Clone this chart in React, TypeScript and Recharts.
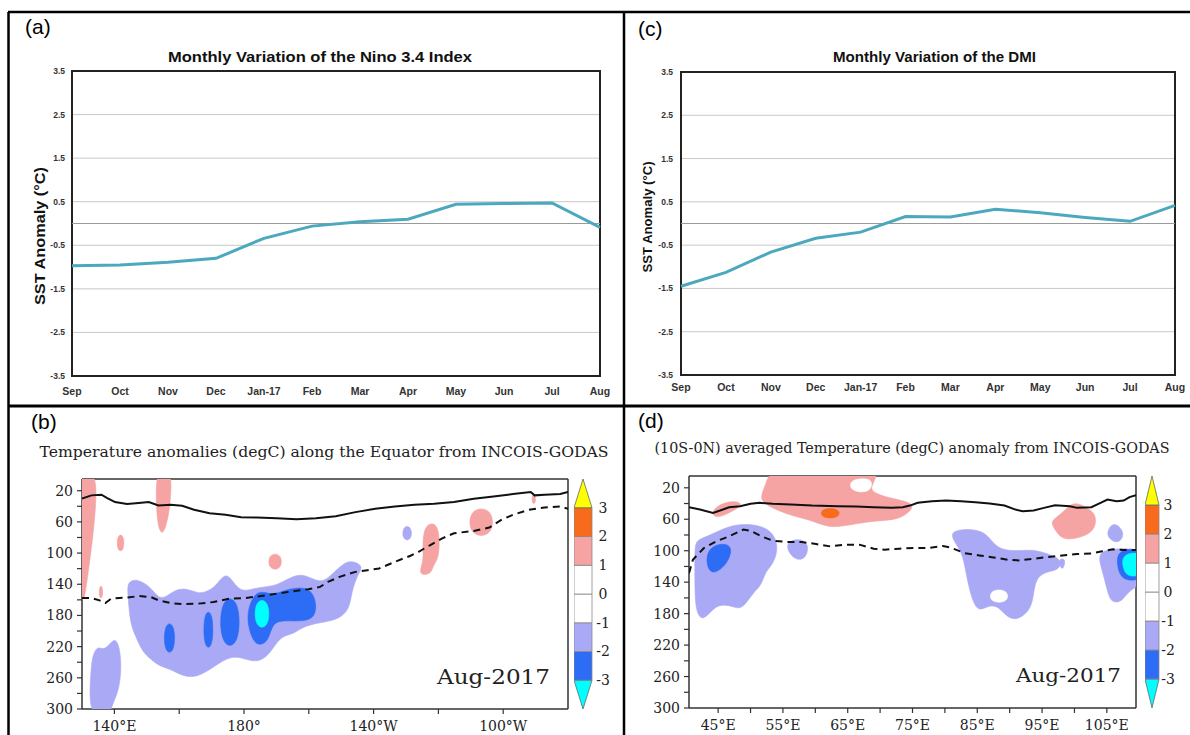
import React from 'react';
import {
  LineChart, Line, XAxis, YAxis, CartesianGrid, ReferenceLine, ReferenceArea,
  ComposedChart, Scatter, BarChart, Bar,
} from 'recharts';

// ---------------- (a) & (c) monthly indices ----------------
const months = ['Sep', 'Oct', 'Nov', 'Dec', 'Jan-17', 'Feb', 'Mar', 'Apr', 'May', 'Jun', 'Jul', 'Aug'];
const nino34 = [-0.97, -0.95, -0.89, -0.8, -0.34, -0.06, 0.04, 0.1, 0.44, 0.46, 0.47, -0.09];
const dmi = [-1.45, -1.13, -0.66, -0.34, -0.2, 0.16, 0.15, 0.33, 0.25, 0.14, 0.05, 0.42];
const sstTicks = [3.5, 2.5, 1.5, 0.5, -0.5, -1.5, -2.5, -3.5];

// ---------------- shared depth axis ----------------
const depthTicks = [20, 40, 60, 80, 100, 120, 140, 160, 180, 200, 220, 240, 260, 280, 300];
const depthLabelled = [20, 60, 100, 140, 180, 220, 260, 300];

// ---------------- (b) equatorial Pacific section ----------------
const lonTicksB = [140, 160, 180, 200, 220, 240, 260];
const lonLabelsB: Record<number, string> = { 140: '140°E', 180: '180°', 220: '140°W', 260: '100°W' };

type P = [number, number][];

const solidB: P = [[130, 30], [132.9, 26], [136, 25.2], [137.8, 29.5], [140.2, 34.6], [143.9, 37.2], [147.5, 35.9], [150.6, 34.6], [153.6, 38.9], [157.3, 38.1], [160.9, 39.4], [164.6, 44.5], [169.4, 48.8], [174.3, 51], [179.1, 54], [184, 54.4], [190.1, 55.3], [196.2, 56.6], [202.2, 55.3], [208.3, 52.7], [214.4, 47.5], [220.5, 43.2], [226.6, 40.2], [232.6, 38.1], [238.7, 36.8], [244.8, 34.6], [250.9, 30.3], [257, 27.3], [263, 24.3], [268.5, 21.7], [269.7, 26], [272.8, 25.2], [277.6, 24.3], [280, 21.7]];
const dashedB: P = [[130, 157.6], [132.9, 157.6], [135.4, 160.6], [137.2, 164.1], [139, 158.5], [141.5, 157.6], [143.9, 157.2], [147.5, 155.1], [151.2, 156.3], [153.6, 160.6], [157.3, 164.1], [160.9, 165.4], [165.8, 164.9], [170.6, 162.8], [175.5, 158.5], [180.4, 157.6], [185.2, 155.1], [190.1, 152], [195, 149], [199.8, 146.4], [203.5, 143.4], [205.9, 137], [209.5, 130.5], [214.4, 124.1], [218.1, 121.9], [221.7, 119.8], [226.6, 111.2], [231.4, 103.4], [233.9, 98.3], [237.5, 89.7], [241.2, 81.1], [244.8, 74.6], [250.9, 71.6], [255.7, 67.3], [259.4, 57.4], [263, 51], [267.9, 44.5], [272.8, 41.5], [277.6, 40.2], [280, 43.2]];

const pinkB1: P = [[126, -10], [134.6, -10], [134.3, 40], [133.2, 85], [131.9, 125], [131, 152], [130.4, 162], [126, 160]];
const pinkB2: P = [[135.3, 142], [136.4, 142], [136.4, 158], [135.3, 158]];
const pinkB3: P = [[152.8, -10], [157.7, -10], [157.4, 30], [156.6, 55], [155, 78], [153.5, 68], [152.9, 40]];
const pinkB4: P = [[140.8, 76], [143, 76], [143, 98], [140.8, 98]];
const pinkB5: P = [[187.5, 100.5], [191.7, 100.5], [191.7, 121.5], [187.5, 121.5]];
const pinkB6: P = [[236.8, 62], [239.5, 62], [240.4, 81], [240.1, 107], [238.3, 116], [237.7, 128], [233.6, 128], [235.5, 111], [235.1, 90], [235.5, 72]];
const pinkB7: P = [[249.4, 41.8], [257, 41.8], [257, 79], [249.4, 79]];
const pinkB8: P = [[268.9, 24], [270, 24], [270, 37], [268.9, 37]];
const lavB1: P = [[228.9, 65.3], [231.8, 65.3], [231.8, 83.9], [228.9, 83.9]];
const lavB2: P = [[144.1, 137], [146.9, 132.7], [151.2, 143.4], [153.6, 158.5], [156, 156.3], [158.5, 147.7], [162.1, 144.7], [165.8, 152], [168.2, 149.9], [171.2, 143.4], [174.3, 124.1], [176.7, 137], [179.1, 149.9], [182.8, 145.6], [186.4, 143.4], [190.1, 141.3], [193.7, 132.7], [197.4, 126.2], [201, 132.7], [203.5, 137], [205.9, 132.7], [209.5, 117.6], [212, 110.3], [214.4, 111.2], [216.8, 117.6], [215, 128.4], [213.2, 149.9], [212.6, 171.4], [209.5, 184.3], [204.7, 188.6], [198.6, 192.9], [195, 204.9], [191.3, 205.8], [187.7, 231.6], [184, 240.2], [180.4, 235.9], [176.7, 231.6], [172.5, 240.2], [168.2, 253.1], [164.6, 259.6], [160.9, 257.4], [157.3, 248.8], [153.6, 244.5], [151.2, 235.9], [148.8, 227.3], [146.9, 210.1], [145.1, 192.9], [144.5, 171.4], [144.1, 149.9]];
const lavB3: P = [[132.7, 253], [133.2, 231.6], [134.8, 218.7], [136.8, 225.2], [139, 214.4], [140.2, 210.1], [141.5, 218.7], [142.2, 244.5], [141.5, 274.6], [139.6, 291.8], [138.3, 310], [132, 310]];
const blueB1: P = [[155.3, 189.2], [158.7, 189.2], [158.7, 228.8], [155.3, 228.8]];
const blueB2: P = [[167.5, 173.9], [170.5, 173.9], [170.5, 222.7], [167.5, 222.7]];
const blueB3: P = [[172.55, 156.1], [178.75, 156.1], [178.75, 221.1], [172.55, 221.1]];
const blueB4: P = [[181.6, 167.1], [183.4, 152], [185.8, 149], [188.9, 154.2], [192.5, 147.7], [197.4, 143.4], [201, 147.7], [202.5, 167.1], [201.6, 184.3], [197.4, 187.7], [192.5, 186.4], [188.9, 188.6], [187.7, 210.1], [185.8, 217.8], [183.4, 216.6], [181.8, 201.5], [181, 184.3]];
const cyanB: P = [[183.25, 159.2], [187.85, 159.2], [187.85, 196.6], [183.25, 196.6]];

// ---------------- (d) 10S-0N Indian Ocean section ----------------
const lonTicksD = [45, 50, 55, 60, 65, 70, 75, 80, 85, 90, 95, 100, 105];
const lonLabelsD: Record<number, string> = { 45: '45°E', 55: '55°E', 65: '65°E', 75: '75°E', 85: '85°E', 95: '95°E', 105: '105°E' };

const solidD: P = [[40.5, 44.7], [42.2, 47.7], [44.2, 51.9], [45.3, 48.9], [46.7, 44.7], [48.4, 43.4], [50, 40.4], [51.4, 39.1], [53.4, 40.4], [56.2, 41.3], [59.5, 42.6], [63.5, 43.4], [66.3, 43.8], [69, 44.7], [71.8, 45.5], [73.5, 44.7], [74.6, 42.6], [75.8, 39.1], [78, 37], [80.2, 36.2], [82.5, 37], [84.7, 38.3], [86.9, 40], [89.2, 42.6], [90.9, 47.7], [92, 49.8], [93.7, 48.9], [95.3, 45.5], [97, 42.1], [99.3, 43.4], [100.4, 45.5], [102.6, 44.7], [103.7, 40.4], [105.1, 34.9], [106.5, 37], [107.6, 36.2], [108.5, 31.9], [109.5, 29.4]];
const dashedD: P = [[40.5, 128.5], [41.1, 111.5], [42.8, 96.6], [44.7, 88.1], [46.7, 81.7], [48.9, 73.2], [50, 74.5], [51.7, 81.7], [53.4, 87.2], [55.6, 88.9], [57.9, 88.9], [60.1, 91.5], [62.3, 94.5], [64.6, 92.3], [66.8, 92.3], [69, 97.4], [70.7, 98.7], [73, 97.4], [75.2, 96.6], [77.4, 96.6], [79.7, 94], [80.8, 95.7], [83, 103], [85.3, 106], [87.5, 108.5], [89.7, 111.5], [91.4, 112.3], [93.7, 110.2], [95.9, 108.1], [98.1, 106], [100.4, 104.3], [102.6, 103.4], [104.3, 100.8], [105.9, 98.3], [107.6, 99.1], [109.5, 99.1]];

const pinkD1: P = [[51.4, 32.8], [52.3, 41.3], [54.5, 49.8], [56.7, 56.2], [59, 60.4], [61.2, 67.7], [62.9, 70.2], [65.1, 67.7], [67.9, 63.4], [70.2, 61.7], [72.4, 60.4], [74.1, 54], [75.3, 43.4], [74.1, 37], [71.3, 32.8], [69, 26.4], [68.5, 20], [69.3, 9.4], [69.8, -10], [53.2, -10], [52.4, 15.7]];
const notchD: P = [[65.2, 9], [68.6, 7], [68.8, 18], [68, 26.5], [65.4, 24.5]];
const pinkD2: P = [[43.9, 54], [45, 58.3], [46.7, 51.9], [48.6, 43.4], [48.4, 37.9], [46.7, 37], [44.7, 43.4]];
const orangeD: P = [[60.8, 45.9], [63.8, 45.9], [63.8, 58.9], [60.8, 58.9]];
const pinkD3: P = [[96.2, 62.6], [97.9, 54], [99.3, 41.3], [100.4, 39.1], [102, 45.5], [103.4, 54], [103.2, 73.2], [101.5, 81.7], [99.3, 86], [97.9, 83.8], [97, 73.2]];
const lavD1: P = [[41.4, 92.3], [41.9, 86], [43.3, 81.7], [45, 75.3], [46.7, 68.9], [48.9, 66], [51.2, 67.7], [52.8, 73.2], [53.9, 83.8], [54.2, 100.8], [53.4, 117.9], [52.3, 126.4], [51.7, 143.4], [50.6, 151.9], [49.5, 164.7], [48.4, 175.3], [46.7, 168.9], [45, 168.9], [43.9, 177.4], [42.5, 189.3], [41.6, 177.4], [41.4, 151.9], [41.4, 117.9]];
const blueD1: P = [[43.3, 100.8], [44.7, 91.5], [46.7, 91.5], [47.1, 100.8], [46.4, 115.7], [45, 126.4], [43.9, 128.5], [43.2, 117.9]];
const lavD2: P = [[55.3, 90.2], [57.3, 83.8], [59, 90.2], [58.7, 107.2], [57.6, 112.8], [56.2, 107.2]];
const lavD3: P = [[80.8, 75.3], [83.6, 71.9], [85.8, 75.3], [86.9, 83.8], [88.1, 96.6], [90.3, 100.8], [93.1, 98.7], [94.8, 100.8], [97, 107.2], [98, 113.6], [97.6, 124.2], [95.9, 126.4], [94.2, 132.8], [93.7, 151.9], [93.4, 173.2], [91.4, 188.1], [89.7, 185.9], [88.3, 171], [86.9, 168.9], [85.3, 177.4], [84.4, 166.8], [83.6, 143.4], [83, 115.7], [82.5, 100.8], [81.4, 88.1]];
const holeD: P = [[86.9, 149.2], [89.8, 149.2], [89.8, 166.2], [86.9, 166.2]];
const lavD4: P = [[97.5, 110], [98.7, 110], [98.3, 123], [97.9, 123]];
const lavD5: P = [[104.3, 100.8], [106, 97.4], [111, 96.6], [111, 139.1], [108.2, 151.9], [107.4, 164.7], [105.7, 166.8], [105.1, 151.9], [104.6, 134.9], [104, 117.9], [103.8, 107.2]];
const lavD6: P = [[106.2, 62.6], [107.9, 77.4], [106.8, 92.3], [105.1, 83.8], [105.1, 73.2]];
const blueD2: P = [[106.8, 98], [111, 96], [111, 136], [108.2, 139], [107, 132], [106.5, 115]];
const cyanD: P = [[107.2, 103], [111, 101], [111, 131], [108.3, 134], [107.5, 124]];

// ---------------- colour bar ----------------
const cbColors = ['#00FFFF', '#2D6CF5', '#A9A9F5', '#FFFFFF', '#FFFFFF', '#F5A3A3', '#F86A1C', '#FFFF00'];
const cbLabels = ['-3', '-2', '-1', '0', '1', '2', '3'];
const cbTicks = [1, 2, 3, 4, 5, 6, 7];
const cbRow = [{ name: 'cb', s0: 1, s1: 1, s2: 1, s3: 1, s4: 1, s5: 1, s6: 1, s7: 1 }];

const PINK = '#F5A3A3';
const LAV = '#A9A9F5';
const BLUE = '#2D6CF5';
const CYAN = '#00FFFF';
const ORANGE = '#F86A1C';

const SERIF = "'DejaVu Serif', serif";
const SANS = "'Liberation Sans', Arial, sans-serif";

const toPts = (a: P) => a.map(([x, y]) => ({ x, y }));
const NoShape = () => <g />;

type BlobSpec = { pts: P; color: string };

const blobsB: BlobSpec[] = [
  { pts: lavB2, color: LAV }, { pts: lavB3, color: LAV }, { pts: lavB1, color: LAV },
  { pts: blueB1, color: BLUE }, { pts: blueB2, color: BLUE }, { pts: blueB3, color: BLUE }, { pts: blueB4, color: BLUE },
  { pts: cyanB, color: CYAN },
  { pts: pinkB1, color: PINK }, { pts: pinkB2, color: PINK }, { pts: pinkB3, color: PINK }, { pts: pinkB4, color: PINK },
  { pts: pinkB5, color: PINK }, { pts: pinkB6, color: PINK }, { pts: pinkB7, color: PINK }, { pts: pinkB8, color: PINK },
];

const blobsD: BlobSpec[] = [
  { pts: pinkD1, color: PINK }, { pts: notchD, color: '#FFFFFF' }, { pts: pinkD2, color: PINK }, { pts: orangeD, color: ORANGE },
  { pts: pinkD3, color: PINK },
  { pts: lavD1, color: LAV }, { pts: blueD1, color: BLUE }, { pts: lavD2, color: LAV },
  { pts: lavD3, color: LAV }, { pts: holeD, color: '#FFFFFF' }, { pts: lavD4, color: LAV },
  { pts: lavD5, color: LAV }, { pts: lavD6, color: LAV }, { pts: blueD2, color: BLUE }, { pts: cyanD, color: CYAN },
];

function IndexChart(props: { values: number[]; width: number; margin: any; tickSize: number; tickMargin: number; yMargin: number }) {
  const data = months.map((m, i) => ({ m, v: props.values[i] }));
  return (
    <LineChart width={props.width} height={405} data={data} margin={props.margin}>
      <CartesianGrid vertical={false} stroke="#c9c9c9" strokeWidth={1} />
      <XAxis dataKey="m" height={20} interval={0} tickLine={false} axisLine={false}
        tickSize={props.tickSize} tickMargin={props.tickMargin}
        tick={{ fontFamily: SANS, fontWeight: 700, fontSize: 10.5, fill: '#333' }} />
      <YAxis type="number" domain={[-3.5, 3.5]} ticks={sstTicks} width={40} interval={0} allowDataOverflow
        tickLine={false} axisLine={false} tickSize={0} tickMargin={props.yMargin}
        tick={{ fontFamily: SANS, fontWeight: 700, fontSize: 8.5, fill: '#333' }} />
      <ReferenceLine y={0} stroke="#9a9a9a" strokeWidth={1} />
      <Line type="linear" dataKey="v" stroke="#4CA8BE" strokeWidth={3} dot={false} isAnimationActive={false} />
      <ReferenceArea x1="Sep" x2="Aug" y1={-3.5} y2={3.5} fill="none" fillOpacity={0} stroke="#222" strokeWidth={2} />
    </LineChart>
  );
}

function Section(props: {
  width: number; height: number; margin: any; xDomain: [number, number]; xTicks: number[];
  xLabels: Record<number, string>; blobs: BlobSpec[]; solid: P; dashed: P; bottomH: number;
}) {
  const axisStroke = '#333';
  const tickFont = { fontFamily: SERIF, fontSize: 14, fill: '#222' };
  return (
    <ComposedChart width={props.width} height={props.height} margin={props.margin}>
      <XAxis xAxisId="b" type="number" dataKey="x" domain={props.xDomain} ticks={props.xTicks} allowDataOverflow
        orientation="bottom" height={props.bottomH} interval={0} tickSize={5} tickMargin={7}
        tickFormatter={(v: number) => props.xLabels[v] ?? ''} stroke={axisStroke}
        axisLine={{ stroke: axisStroke, strokeWidth: 1.5 }} tickLine={{ stroke: axisStroke, strokeWidth: 1.2 }} tick={tickFont} />
      <XAxis xAxisId="t" type="number" dataKey="x" domain={props.xDomain} ticks={props.xTicks} allowDataOverflow
        orientation="top" height={6} interval={0} tickSize={5} tick={false} stroke={axisStroke}
        axisLine={{ stroke: axisStroke, strokeWidth: 1.5 }} tickLine={{ stroke: axisStroke, strokeWidth: 1.2 }} />
      <YAxis yAxisId="l" type="number" dataKey="y" domain={[5, 300]} reversed ticks={depthTicks} allowDataOverflow
        width={60} interval={0} tickSize={5} tickMargin={4}
        tickFormatter={(v: number) => (depthLabelled.includes(v) ? String(v) : '')} stroke={axisStroke}
        axisLine={{ stroke: axisStroke, strokeWidth: 1.5 }} tickLine={{ stroke: axisStroke, strokeWidth: 1.2 }} tick={tickFont} />
      <YAxis yAxisId="r" type="number" dataKey="y" domain={[5, 300]} reversed ticks={depthTicks} allowDataOverflow
        orientation="right" width={6} interval={0} tickSize={5} tick={false} stroke={axisStroke}
        axisLine={{ stroke: axisStroke, strokeWidth: 1.5 }} tickLine={{ stroke: axisStroke, strokeWidth: 1.2 }} />
      <Scatter xAxisId="t" yAxisId="r" data={toPts(props.solid)} shape={NoShape} isAnimationActive={false} legendType="none" />
      {props.blobs.map((b, i) => (
        <Scatter key={i} xAxisId="b" yAxisId="l" data={toPts(b.pts)} shape={NoShape} isAnimationActive={false}
          legendType="none" fill={b.color}
          line={{ fill: b.color, stroke: b.color, strokeWidth: 0.6 }} lineType="joint" lineJointType="basisClosed" />
      ))}
      <Scatter xAxisId="b" yAxisId="l" data={toPts(props.solid)} shape={NoShape} isAnimationActive={false} legendType="none"
        line={{ fill: 'none', stroke: '#111', strokeWidth: 2 }} lineType="joint" lineJointType="linear" />
      <Scatter xAxisId="b" yAxisId="l" data={toPts(props.dashed)} shape={NoShape} isAnimationActive={false} legendType="none"
        line={{ fill: 'none', stroke: '#111', strokeWidth: 2, strokeDasharray: '7 5' }} lineType="joint" lineJointType="linear" />
    </ComposedChart>
  );
}

const TriUp = (p: any) => (
  <polygon points={`${p.x},${p.y + p.height} ${p.x + p.width},${p.y + p.height} ${p.x + p.width / 2},${p.y}`}
    fill={p.fill} stroke="#666" strokeWidth={0.8} />
);
const TriDown = (p: any) => (
  <polygon points={`${p.x},${p.y} ${p.x + p.width},${p.y} ${p.x + p.width / 2},${p.y + p.height}`}
    fill={p.fill} stroke="#666" strokeWidth={0.8} />
);

function ColorBar(props: { width: number; height: number; barW: number; labelDx: number; fontSize: number }) {
  const CbTick = (t: any) => (
    <text x={t.x + props.labelDx} y={t.y} dy="0.35em" textAnchor="middle" fontFamily={SERIF} fontSize={props.fontSize} fill="#222">
      {cbLabels[t.payload.value - 1]}
    </text>
  );
  return (
    <BarChart width={props.width} height={props.height} data={cbRow} barCategoryGap={0} barGap={0}
      margin={{ top: 1, bottom: 1, left: 0, right: props.width - props.barW - 40 }}>
      <XAxis dataKey="name" hide />
      <YAxis type="number" domain={[0, 8]} ticks={cbTicks} orientation="right" width={40} interval={0}
        tickLine={false} axisLine={false} tickSize={0} tickMargin={0} tick={CbTick} />
      {cbColors.map((c, i) => (
        <Bar key={i} dataKey={`s${i}`} stackId="cb" fill={c} stroke="#888" strokeWidth={0.8} isAnimationActive={false}
          shape={i === 0 ? TriDown : i === cbColors.length - 1 ? TriUp : undefined} />
      ))}
    </BarChart>
  );
}

export default function App() {
  const abs = (left: number, top: number): React.CSSProperties => ({ position: 'absolute', left, top });
  return (
    <div style={{ position: 'absolute', left: 0, top: 0, width: 1190, height: 735, background: '#fff', overflow: 'hidden' }}>
      <div style={abs(0, 0)}>
        <IndexChart values={nino34} width={620} margin={{ top: 71, right: 20, bottom: 9, left: 32 }} tickSize={6} tickMargin={6} yMargin={7} />
      </div>
      <div style={abs(624, 0)}>
        <IndexChart values={dmi} width={566} margin={{ top: 72, right: 15, bottom: 10, left: 17 }} tickSize={4} tickMargin={5} yMargin={8} />
      </div>
      <div style={abs(0, 405)}>
        <Section width={620} height={330} margin={{ top: 68, right: 46, bottom: 0, left: 22 }} xDomain={[130, 280]}
          xTicks={lonTicksB} xLabels={lonLabelsB} blobs={blobsB} solid={solidB} dashed={dashedB} bottomH={26} />
      </div>
      <div style={abs(624, 405)}>
        <Section width={566} height={330} margin={{ top: 65, right: 48, bottom: 0, left: 5 }} xDomain={[40.5, 109.5]}
          xTicks={lonTicksD} xLabels={lonLabelsD} blobs={blobsD} solid={solidD} dashed={dashedD} bottomH={27} />
      </div>
      <div style={abs(574, 478)}>
        <ColorBar width={60} height={232} barW={18} labelDx={11} fontSize={14} />
      </div>
      <div style={abs(1145, 475)}>
        <ColorBar width={54} height={234} barW={14} labelDx={9} fontSize={14} />
      </div>
      <svg width={1190} height={735} style={{ position: 'absolute', left: 0, top: 0, pointerEvents: 'none' }}>
        <line x1={8} y1={12} x2={1190} y2={12} stroke="#000" strokeWidth={2.5} />
        <line x1={8.5} y1={12} x2={8.5} y2={735} stroke="#000" strokeWidth={2.5} />
        <line x1={624} y1={12} x2={624} y2={735} stroke="#000" strokeWidth={2.5} />
        <line x1={8} y1={406} x2={1190} y2={406} stroke="#000" strokeWidth={3} />
        <text x={25} y={34} fontFamily={SANS} fontSize={21} fill="#000">(a)</text>
        <text x={638} y={36} fontFamily={SANS} fontSize={21} fill="#000">(c)</text>
        <text x={31} y={429} fontFamily={SANS} fontSize={21} fill="#000">(b)</text>
        <text x={638} y={428} fontFamily={SANS} fontSize={21} fill="#000">(d)</text>
        <text x={168} y={62} fontFamily={SANS} fontWeight={700} fontSize={15} fill="#111" textLength={304} lengthAdjust="spacingAndGlyphs">Monthly Variation of the  Nino 3.4 Index</text>
        <text x={833} y={62} fontFamily={SANS} fontWeight={700} fontSize={14} fill="#111" textLength={203} lengthAdjust="spacingAndGlyphs">Monthly Variation of the DMI</text>
        <text transform="translate(45,236) rotate(-90)" textAnchor="middle" fontFamily={SANS} fontWeight={700} fontSize={14} fill="#111" textLength={138} lengthAdjust="spacingAndGlyphs">SST Anomaly (°C)</text>
        <text transform="translate(651.5,217) rotate(-90)" textAnchor="middle" fontFamily={SANS} fontWeight={700} fontSize={13} fill="#111" textLength={111} lengthAdjust="spacingAndGlyphs">SST Anomaly (°C)</text>
        <text x={39.5} y={456.5} fontFamily={SERIF} fontSize={14} fill="#222" textLength={569} lengthAdjust="spacingAndGlyphs">Temperature anomalies (degC) along the Equator from INCOIS-GODAS</text>
        <text x={654.5} y={453} fontFamily={SERIF} fontSize={14} fill="#222" textLength={515} lengthAdjust="spacingAndGlyphs">(10S-0N) averaged Temperature (degC) anomaly from INCOIS-GODAS</text>
        <text x={437} y={684} fontFamily={SERIF} fontSize={20} fill="#222" textLength={113} lengthAdjust="spacingAndGlyphs">Aug-2017</text>
        <text x={1016} y={682} fontFamily={SERIF} fontSize={19} fill="#222" textLength={105} lengthAdjust="spacingAndGlyphs">Aug-2017</text>
      </svg>
    </div>
  );
}
